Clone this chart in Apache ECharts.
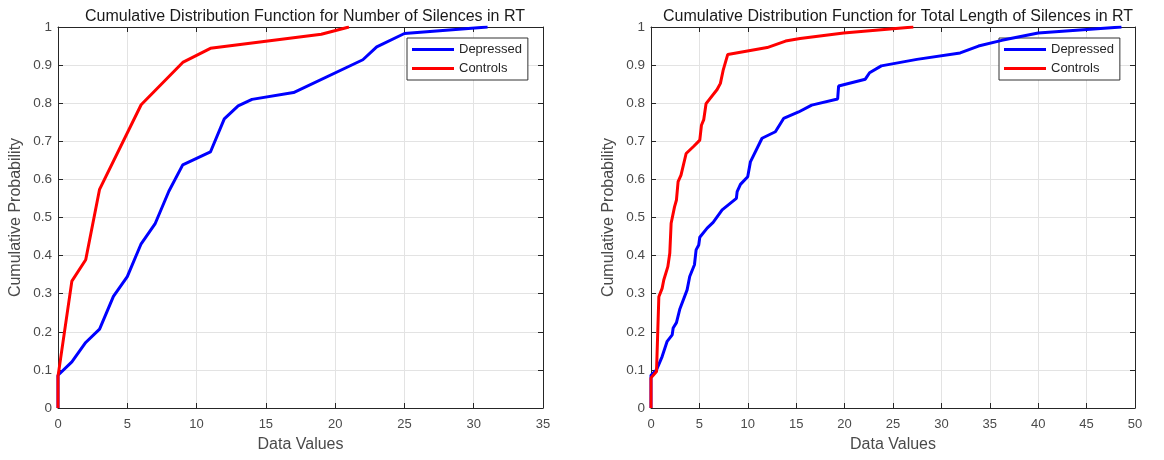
<!DOCTYPE html>
<html><head><meta charset="utf-8">
<script src="https://cdn.jsdelivr.net/npm/echarts@6/dist/echarts.min.js"></script>
<style>html,body{margin:0;padding:0;background:#fff}#c{width:1164px;height:460px}</style>
</head><body><div id="c"></div>
<script>
const seriesNames = ['Depressed', 'Controls'];
const titles = ['Cumulative Distribution Function for Number of Silences in RT', 'Cumulative Distribution Function for Total Length of Silences in RT'];
const xName = 'Data Values';
const yName = 'Cumulative Probability';

const leftDepX = [0,0,1,2,3,4,5,6,7,8,9,11,12,13,14,17,22,23,25,31];
const leftDepY = [0,0.086,0.121,0.172,0.207,0.293,0.345,0.431,0.483,0.569,0.638,0.672,0.759,0.793,0.810,0.828,0.914,0.948,0.983,1];
const leftConX = [0,0,1,2,3,6,9,11,19,21];
const leftConY = [0,0.083,0.333,0.389,0.574,0.796,0.907,0.944,0.981,1];

const rightDepX = [0,0,0.57,1.15,1.67,2.19,2.29,2.63,2.97,3.73,4.0,4.49,4.66,4.93,5.04,5.8,6.42,7.35,8.82,8.9,9.24,9.99,10.27,11.47,12.85,13.7,15.25,16.6,19.28,19.38,22.14,22.58,23.79,27.47,31.94,33.83,36.24,40.0,48.6];
const rightDepY = [0,0.086,0.10,0.135,0.175,0.192,0.21,0.224,0.259,0.31,0.345,0.376,0.415,0.428,0.448,0.472,0.487,0.52,0.55,0.568,0.587,0.607,0.646,0.708,0.725,0.760,0.777,0.795,0.811,0.845,0.863,0.880,0.898,0.915,0.932,0.950,0.965,0.984,1];
const rightConX = [0,0,0.57,0.81,1.15,1.32,1.74,1.94,2.08,2.43,2.63,2.8,3.1,3.63,4.42,5.04,5.21,5.45,5.69,6.83,7.17,7.45,7.93,12.0,13.9,15.4,19.9,27.1];
const rightConY = [0,0.079,0.096,0.292,0.314,0.336,0.371,0.406,0.485,0.528,0.546,0.594,0.611,0.668,0.687,0.703,0.742,0.757,0.799,0.836,0.852,0.886,0.928,0.946,0.963,0.970,0.984,1];

const xMax = [35, 50];
const xInterval = 5;

const zip = (xs, ys) => xs.map((x, i) => [x, ys[i]]);
const FONT = '"Liberation Sans", Arial, sans-serif';
const AX = '#262626';
const LBL = '#4a4a4a';

const grids = [
  {left: 58, top: 27, width: 485, height: 381},
  {left: 651, top: 27, width: 484, height: 381}
];

const xAxes = [], yAxes = [];
[0,1].forEach(g => {
  xAxes.push({type:'value', gridIndex:g, min:0, max:xMax[g], interval:xInterval, position:'bottom',
    name:xName, nameLocation:'middle', nameGap:29,
    nameTextStyle:{fontFamily:FONT, fontSize:16, color:LBL},
    axisLine:{show:true, onZero:false, lineStyle:{color:AX, width:1}},
    axisTick:{show:true, inside:true, length:5, lineStyle:{color:AX}},
    axisLabel:{fontFamily:FONT, fontSize:13, color:LBL, margin:10},
    splitLine:{show:true, lineStyle:{color:'#e3e3e3', width:1}}});
  xAxes.push({type:'value', gridIndex:g, min:0, max:xMax[g], interval:xInterval, position:'top',
    axisLine:{show:true, onZero:false, lineStyle:{color:AX, width:1}},
    axisTick:{show:true, inside:true, length:5, lineStyle:{color:AX}},
    axisLabel:{show:false}, splitLine:{show:false}});
  yAxes.push({type:'value', gridIndex:g, min:0, max:1, interval:0.1, position:'left',
    name:yName, nameLocation:'middle', nameGap:34, nameRotate:90,
    nameTextStyle:{fontFamily:FONT, fontSize:16, color:LBL},
    axisLine:{show:true, onZero:false, lineStyle:{color:AX, width:1}},
    axisTick:{show:true, inside:true, length:5, lineStyle:{color:AX}},
    axisLabel:{fontFamily:FONT, fontSize:13.5, color:LBL, margin:6,
      formatter: v => String(Math.round(v*10)/10)},
    splitLine:{show:true, lineStyle:{color:'#e3e3e3', width:1}}});
  yAxes.push({type:'value', gridIndex:g, min:0, max:1, interval:0.1, position:'right',
    axisLine:{show:true, onZero:false, lineStyle:{color:AX, width:1}},
    axisTick:{show:true, inside:true, length:5, lineStyle:{color:AX}},
    axisLabel:{show:false}, splitLine:{show:false}});
});

const mk = (name, color, g, data) => ({
  name, type:'line', xAxisIndex:g*2, yAxisIndex:g*2, data, showSymbol:false, symbol:'none',
  lineStyle:{color, width:3}, itemStyle:{color}, z:5
});

const series = [
  mk(seriesNames[0], '#0000ff', 0, zip(leftDepX, leftDepY)),
  mk(seriesNames[1], '#ff0000', 0, zip(leftConX, leftConY)),
  mk(seriesNames[0], '#0000ff', 1, zip(rightDepX, rightDepY)),
  mk(seriesNames[1], '#ff0000', 1, zip(rightConX, rightConY))
];

const legendBase = {
  data: seriesNames, orient:'vertical', top:38, icon:'rect', itemWidth:42, itemHeight:3,
  itemGap:4, padding:[4,6,4,5], borderColor:'#333', borderWidth:1, backgroundColor:'#fff',
  textStyle:{fontFamily:FONT, fontSize:13, color:'#262626', lineHeight:15}, selectedMode:false
};

const chart = echarts.init(document.getElementById('c'), null, {renderer:'canvas'});
chart.setOption({
  animation:false,
  backgroundColor:'#fff',
  title: [
    {text:titles[0], left:300, textAlign:'center', top:4, textStyle:{fontFamily:FONT, fontSize:16, fontWeight:'normal', color:'#1a1a1a'}},
    {text:titles[1], left:893, textAlign:'center', top:4, textStyle:{fontFamily:FONT, fontSize:16, fontWeight:'normal', color:'#1a1a1a'}}
  ],
  legend: [Object.assign({}, legendBase, {left:407}), Object.assign({}, legendBase, {left:999})],
  grid: grids,
  xAxis: xAxes,
  yAxis: yAxes,
  series
});
</script></body></html>
